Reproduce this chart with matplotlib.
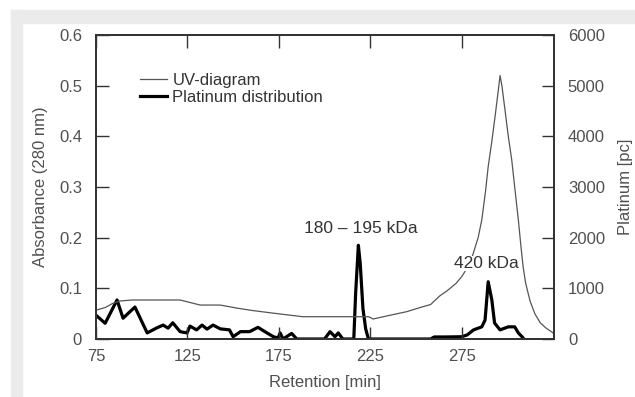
import matplotlib
matplotlib.use("Agg")
import matplotlib.pyplot as plt
from matplotlib.patches import Rectangle

# UV absorbance at 280 nm
uv_x = [75, 80, 84, 88, 95, 121, 132, 143, 152, 161, 172, 188, 203, 215, 224,
        226.6, 236, 245, 254, 258, 263, 267, 272, 275, 278, 281, 284, 286, 288,
        289.5, 291.5, 293.3, 295, 296, 297, 298.7, 300.5, 302.4, 304, 306, 307.5,
        308.6, 310, 312.4, 315, 318, 321, 325]
uv_y = [0.057, 0.062, 0.07, 0.075, 0.077, 0.077, 0.067, 0.067, 0.061, 0.056,
        0.051, 0.044, 0.044, 0.044, 0.044, 0.0395, 0.047, 0.054, 0.064, 0.068,
        0.085, 0.095, 0.11, 0.123, 0.14, 0.165, 0.2, 0.235, 0.29, 0.34, 0.39,
        0.44, 0.49, 0.52, 0.5, 0.452, 0.40, 0.353, 0.30, 0.235, 0.18, 0.143,
        0.11, 0.075, 0.05, 0.032, 0.022, 0.012]

# platinum distribution [pc]
pt_x = [75, 80, 86.5, 89.8, 93, 96.3, 103, 108, 111.7, 114.4, 117, 121, 124.8,
        126.4, 130, 133, 135.7, 139, 143, 148, 150, 154, 159, 163.6, 168.5, 172,
        174.6, 175.7, 177.3, 182, 184.8, 200, 203, 205.7, 207.5, 210, 216, 217,
        218.5, 219.5, 221, 222.5, 224, 258, 260, 266, 275, 278, 281.5, 286,
        287.8, 289.5, 291.5, 293, 296, 300.5, 304, 306, 308, 309]
pt_y = [470, 310, 770, 410, 520, 630, 120, 215, 275, 215, 320, 145, 120, 255,
        180, 275, 195, 275, 200, 180, 45, 145, 145, 230, 120, 45, 20, 120, 0,
        110, 0, 0, 145, 45, 120, 0, 0, 900, 1850, 1500, 600, 200, 0, 0, 40, 40,
        45, 80, 180, 240, 375, 1130, 770, 315, 180, 240, 240, 120, 45, 0]

x_ticks = [75, 125, 175, 225, 275]
left_ticks = [0, 0.1, 0.2, 0.3, 0.4, 0.5, 0.6]
left_labels = ["0", "0.1", "0.2", "0.3", "0.4", "0.5", "0.6"]
right_ticks = [0, 1000, 2000, 3000, 4000, 5000, 6000]

plt.rcParams["font.family"] = ["Liberation Sans", "DejaVu Sans"]
txt = "#505050"
spine = "#333333"
fs = 12

fig = plt.figure(figsize=(6.35, 3.97), dpi=100)
# grey frame at the top and left
fig.patches.append(Rectangle((11 / 635, 1 - 23 / 397), 1, 13 / 397,
                             transform=fig.transFigure, color="#ebebeb", zorder=0))
fig.patches.append(Rectangle((11 / 635, 0), 11 / 635, 1 - 10 / 397,
                             transform=fig.transFigure, color="#ebebeb", zorder=0))

ax = fig.add_axes([96 / 635, 1 - 339 / 397, 458 / 635, 304 / 397])
ax2 = ax.twinx()

uv_line, = ax.plot(uv_x, uv_y, color="#555555", lw=0.9, label="UV-diagram")
pt_line, = ax2.plot(pt_x, pt_y, color="black", lw=2.3,
                    label="Platinum distribution")

ax.set_xlim(75, 325.5)
ax.set_ylim(0, 0.6)
ax2.set_ylim(0, 6000)

ax.set_xticks(x_ticks)
ax.set_yticks(left_ticks)
ax.set_yticklabels(left_labels)
ax2.set_yticks(right_ticks)

ax.tick_params(axis="x", direction="in", top=True, length=9, width=1,
               color=spine, labelcolor=txt, labelsize=fs, pad=7)
ax.tick_params(axis="y", direction="in", right=False, length=9, width=1,
               color=spine, labelcolor=txt, labelsize=fs, pad=10)
ax2.tick_params(axis="y", direction="in", length=9, width=1,
                color=spine, labelcolor=txt, labelsize=fs, pad=10)
for a in (ax, ax2):
    for s in a.spines.values():
        s.set_color(spine)
        s.set_linewidth(1.3)

ax.set_xlabel("Retention [min]", color=txt, fontsize=fs, labelpad=8)
ax.set_ylabel("Absorbance (280 nm)", color=txt, fontsize=fs, labelpad=8)
ax2.set_ylabel("Platinum [pc]", color=txt, fontsize=fs, labelpad=9)

ax.text(220, 0.219, "180 \u2013 195 kDa", ha="center", va="center",
        color="#333333", fontsize=12.5, zorder=5,
        bbox=dict(facecolor="white", edgecolor="none", pad=0))
ax.text(288.3, 0.15, "420 kDa", ha="center", va="center",
        color="#333333", fontsize=12.5, zorder=5,
        bbox=dict(facecolor="white", edgecolor="none", pad=0))
ax.set_zorder(ax2.get_zorder() + 1)
ax.patch.set_visible(False)

leg = ax.legend(handles=[uv_line, pt_line], loc="upper left",
                bbox_to_anchor=(0.096, 0.875), frameon=False, fontsize=fs,
                handlelength=1.6, handletextpad=0.35, labelspacing=0.1,
                borderpad=0, borderaxespad=0)
for t in leg.get_texts():
    t.set_color("#333333")

fig.savefig("out.png", dpi=100)
